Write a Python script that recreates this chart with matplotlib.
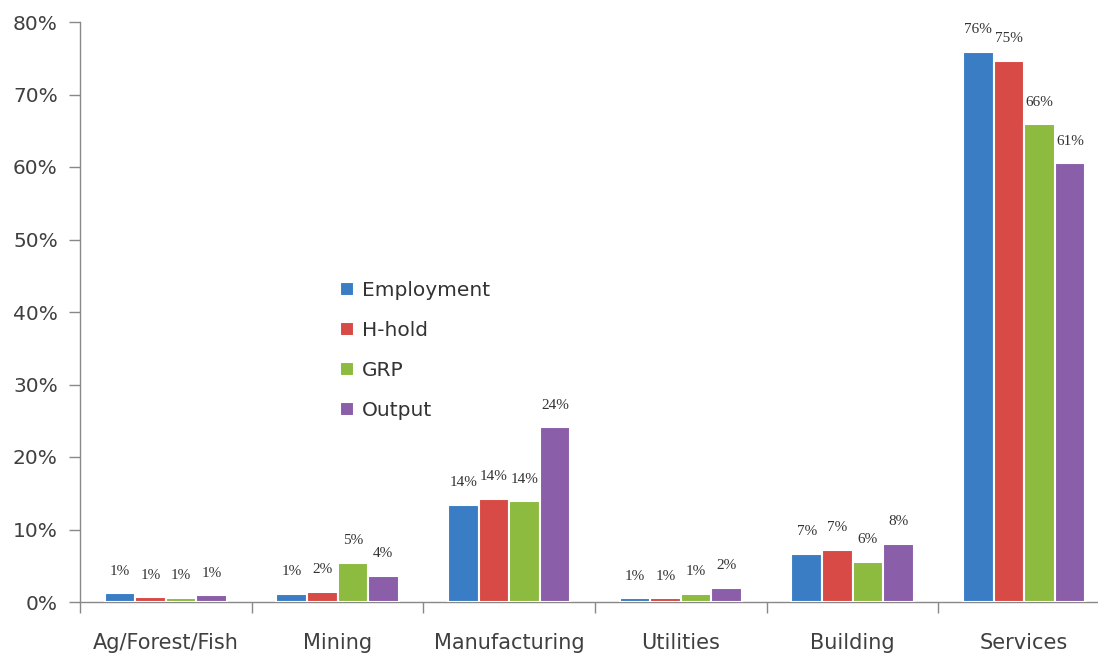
import matplotlib
matplotlib.use("Agg")
import matplotlib.pyplot as plt
import numpy as np

categories = ["Ag/Forest/Fish", "Mining", "Manufacturing", "Utilities", "Building", "Services"]
series_names = ["Employment", "H-hold", "GRP", "Output"]
employment = [1.2, 1.15, 13.4, 0.5, 6.6, 75.9]
hhold = [0.65, 1.4, 14.2, 0.5, 7.2, 74.6]
grp = [0.6, 5.4, 13.9, 1.1, 5.5, 65.9]
output = [0.9, 3.6, 24.1, 2.0, 8.0, 60.5]
labels_employment = ["1%", "1%", "14%", "1%", "7%", "76%"]
labels_hhold = ["1%", "2%", "14%", "1%", "7%", "75%"]
labels_grp = ["1%", "5%", "14%", "1%", "6%", "66%"]
labels_output = ["1%", "4%", "24%", "2%", "8%", "61%"]
yticks = [0, 10, 20, 30, 40, 50, 60, 70, 80]

colors = ["#3A7DC4", "#D84A45", "#8CBB3F", "#8A5EA8"]
all_vals = [employment, hhold, grp, output]
all_labels = [labels_employment, labels_hhold, labels_grp, labels_output]

fig = plt.figure(figsize=(10.98, 6.59), dpi=100)
ax = fig.add_axes([80/1098, 1-602/659, (1110-80)/1098, (602-22)/659])

x = np.arange(len(categories))
step = 0.178
for k, (name, vals, labs, c) in enumerate(zip(series_names, all_vals, all_labels, colors)):
    pos = x + (k - 1.5) * step
    bars = ax.bar(pos, vals, width=step, color=c, edgecolor="white", linewidth=1.5, label=name, zorder=3)
    for b, lab in zip(bars, labs):
        ax.annotate(lab, (b.get_x() + b.get_width()/2, b.get_height()),
                    xytext=(0, 16), textcoords="offset points", ha="center", va="center",
                    fontsize=11, family="Liberation Serif", color="#333333")

ax.set_xlim(-0.5, 5.5)
ax.set_ylim(0, 80)
ax.set_yticks(yticks)
ax.set_yticklabels([f"{t}%" for t in yticks], fontsize=14.5, color="#404040", family="DejaVu Sans")
ax.set_xticks(x)
ax.set_xticklabels(categories, fontsize=15, color="#404040", family="DejaVu Sans")
ax.tick_params(axis="x", which="major", length=0, pad=22)
ax.set_xticks(np.arange(-0.5, 6.0, 1.0), minor=True)
ax.tick_params(axis="x", which="minor", length=8, color="#888888", width=1)
ax.tick_params(axis="y", length=8, color="#888888", width=1, pad=8)
for s in ["top", "right"]:
    ax.spines[s].set_visible(False)
for s in ["left", "bottom"]:
    ax.spines[s].set_color("#888888")
    ax.spines[s].set_linewidth(1)

fig.legend(loc="upper left", bbox_to_anchor=(340/1098, 1-281/659), frameon=False,
           prop={"family": "DejaVu Sans", "size": 14.5}, handlelength=0.7, handleheight=0.7,
           handletextpad=0.4, labelspacing=1.05, borderpad=0, borderaxespad=0,
           labelcolor="#333333")

fig.savefig("out.png", dpi=100)
